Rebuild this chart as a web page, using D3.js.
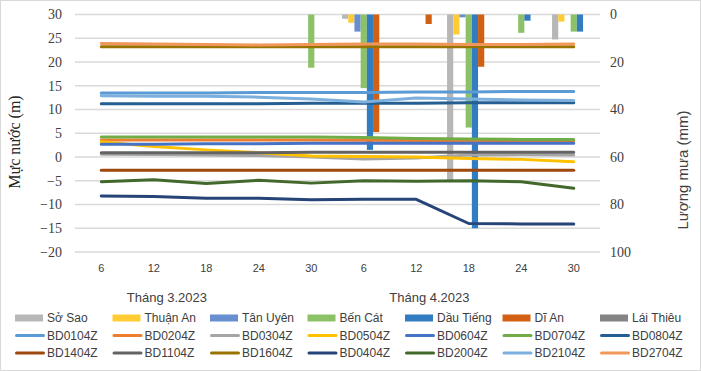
<!DOCTYPE html>
<html>
<head>
<meta charset="utf-8">
<script src="https://cdnjs.cloudflare.com/ajax/libs/d3/7.8.5/d3.min.js"></script>
<style>
  body { margin: 0; background: #fff; }
  svg { display: block; }
</style>
</head>
<body>
<svg id="chart" width="701" height="371"></svg>
<script>
// x categories (day of month) and month groups
var dayLabels = ["6", "12", "18", "24", "30", "6", "12", "18", "24", "30"]
var monthLabels = ["Tháng 3.2023", "Tháng 4.2023"]

// rainfall stations (bars, right axis, mm)
var rainNames = ["Sở Sao", "Thuận An", "Tân Uyên", "Bến Cát", "Dầu Tiếng", "Dĩ An", "Lái Thiêu"]
var rainColors = ["#B7B7B7", "#FFCD33", "#698ED0", "#8CC168", "#327DC2", "#D26012", "#848484"]
var soSao    = [0, 0, 0, 0, 0,    1.8, 0, 70,   0,   10.5]
var thuanAn  = [0, 0, 0, 0, 0,    3.5, 0, 8.4,  0,   3.0]
var tanUyen  = [0, 0, 0, 0, 0,    7.2, 0, 1.2,  0,   0]
var benCat   = [0, 0, 0, 0, 22.4, 31,  0, 47.6, 7.7, 7.2]
var dauTieng = [0, 0, 0, 0, 0,    57,  0, 90,   2.6, 7.2]
var diAn     = [0, 0, 0, 0, 0,    49.5, 4, 22,  0,   0]
var laiThieu = [0, 0, 0, 0, 0,    0,   0, 0,    0,   0]
var rainValues = [soSao, thuanAn, tanUyen, benCat, dauTieng, diAn, laiThieu]

// water level wells (lines, left axis, m)
var wellNames = ["BD0104Z", "BD0204Z", "BD0304Z", "BD0504Z", "BD0604Z", "BD0704Z", "BD0804Z",
                 "BD1404Z", "BD1104Z", "BD1604Z", "BD0404Z", "BD2004Z", "BD2104Z", "BD2704Z"]
var wellColors = ["#5B9BD5", "#ED7D31", "#A5A5A5", "#FFC000", "#4472C4", "#70AD47", "#255E91",
                  "#9E480E", "#636363", "#997300", "#264478", "#43682B", "#7CAFDD", "#F1975A"]
var bd0104 = [13.5, 13.5, 13.5, 13.6, 13.6, 13.6, 13.7, 13.7, 13.8, 13.8]
var bd0204 = [3.6, 3.6, 3.6, 3.6, 3.6, 3.5, 3.5, 3.5, 3.4, 3.4]
var bd0304 = [0.6, 0.5, 0.4, 0.3, 0.0, -0.4, -0.2, 0.4, 0.5, 0.4]
var bd0504 = [3.2, 2.2, 1.5, 0.9, 0.2, 0.1, 0.0, -0.3, -0.5, -1.0]
var bd0604 = [2.7, 2.7, 2.8, 2.8, 2.9, 2.9, 2.9, 2.9, 2.9, 2.9]
var bd0704 = [4.2, 4.2, 4.2, 4.2, 4.2, 4.1, 3.9, 3.8, 3.7, 3.7]
var bd0804 = [11.2, 11.2, 11.2, 11.2, 11.3, 11.3, 11.3, 11.4, 11.4, 11.4]
var bd1404 = [-2.8, -2.8, -2.8, -2.8, -2.8, -2.8, -2.8, -2.8, -2.8, -2.8]
var bd1104 = [0.9, 0.9, 0.9, 0.9, 1.0, 1.0, 1.0, 1.0, 1.0, 1.0]
var bd1604 = [23.2, 23.2, 23.2, 23.2, 23.2, 23.2, 23.2, 23.2, 23.2, 23.2]
var bd0404 = [-8.2, -8.3, -8.7, -8.7, -9.0, -8.9, -8.9, -14.0, -14.1, -14.1]
var bd2004 = [-5.2, -4.8, -5.6, -4.9, -5.5, -5.0, -5.1, -5.0, -5.2, -6.6]
var bd2104 = [12.9, 12.8, 12.8, 12.6, 12.2, 11.6, 12.4, 12.2, 12.0, 11.9]
var bd2704 = [23.9, 23.8, 23.7, 23.6, 23.7, 23.8, 23.8, 23.7, 23.7, 23.8]
var wellValues = [bd0104, bd0204, bd0304, bd0504, bd0604, bd0704, bd0804,
                  bd1404, bd1104, bd1604, bd0404, bd2004, bd2104, bd2704]

var leftTicks = [-20, -15, -10, -5, 0, 5, 10, 15, 20, 25, 30]
var rightTicks = [0, 20, 40, 60, 80, 100]

var svg = d3.select("#chart")
var plot = {left: 75, right: 600, top: 14.5, bottom: 252}
var sans = "'Liberation Sans', Arial, sans-serif"
var serif = "'Liberation Serif', 'Times New Roman', serif"

// chart area border
svg.append("rect")
    .attr("x", 0.5).attr("y", 0.5)
    .attr("width", 700).attr("height", 370)
    .attr("fill", "#fff")
    .attr("stroke", "#D9D9D9")

var xScale = d3.scaleBand()
    .domain(d3.range(dayLabels.length))
    .range([plot.left, plot.right])

var yLeft = d3.scaleLinear()
    .domain([-20, 30])
    .range([plot.bottom, plot.top])

var yRight = d3.scaleLinear()
    .domain([0, 100])
    .range([plot.top, plot.bottom])

// gridlines
svg.append("g")
  .selectAll("line")
  .data(leftTicks)
  .enter()
  .append("line")
    .attr("x1", plot.left)
    .attr("x2", plot.right)
    .attr("y1", function(d) { return yLeft(d) })
    .attr("y2", function(d) { return yLeft(d) })
    .attr("stroke", "#D9D9D9")
    .attr("stroke-width", 1.5)

// clustered bars hanging from the top (reversed right axis)
var clusterW = 43.4
var xInner = d3.scaleBand()
    .domain(rainNames)
    .range([0, clusterW])

var rainData = rainNames.map(function(name, i) {
  return {name: name, color: rainColors[i], values: rainValues[i]}
})

svg.append("g")
  .selectAll("g")
  .data(rainData)
  .enter()
  .append("g")
    .attr("fill", function(d) { return d.color })
  .selectAll("rect")
  .data(function(d) {
    return d.values.map(function(v, i) { return {name: d.name, i: i, v: v} })
  })
  .enter()
  .filter(function(d) { return d.v > 0 })
  .append("rect")
    .attr("x", function(d) {
      return xScale(d.i) + xScale.bandwidth() / 2 - clusterW / 2 + xInner(d.name)
    })
    .attr("y", yRight(0))
    .attr("width", xInner.bandwidth())
    .attr("height", function(d) { return yRight(d.v) - yRight(0) })

// water level lines
var line = d3.line()
    .x(function(d, i) { return xScale(i) + xScale.bandwidth() / 2 })
    .y(function(d) { return yLeft(d) })

svg.append("g")
  .selectAll("path")
  .data(wellValues)
  .enter()
  .append("path")
    .attr("d", function(d) { return line(d) })
    .attr("stroke", function(d, i) { return wellColors[i] })
    .attr("stroke-width", 3)
    .attr("stroke-linejoin", "round")
    .attr("stroke-linecap", "round")
    .attr("fill", "none")

// axes
var leftAxis = d3.axisLeft(yLeft).tickValues(leftTicks).tickSize(0).tickPadding(13)
svg.append("g")
    .attr("transform", "translate(" + plot.left + ",0)")
    .call(leftAxis)
    .call(function(g) { g.select(".domain").remove() })
    .selectAll("text")
    .style("font-family", serif)
    .style("font-size", "14px")
    .attr("fill", "#404040")

var rightAxis = d3.axisRight(yRight).tickValues(rightTicks).tickSize(0).tickPadding(10)
svg.append("g")
    .attr("transform", "translate(" + plot.right + ",0)")
    .call(rightAxis)
    .call(function(g) { g.select(".domain").remove() })
    .selectAll("text")
    .style("font-family", serif)
    .style("font-size", "14px")
    .attr("fill", "#404040")

var bottomAxis = d3.axisBottom(xScale)
    .tickSize(0)
    .tickPadding(12)
    .tickFormat(function(i) { return dayLabels[i] })
svg.append("g")
    .attr("transform", "translate(0," + plot.bottom + ")")
    .call(bottomAxis)
    .call(function(g) { g.select(".domain").remove() })
    .selectAll("text")
    .style("font-family", sans)
    .style("font-size", "11px")
    .attr("fill", "#404040")

// month group labels
svg.append("g")
  .selectAll("text")
  .data(monthLabels)
  .enter()
  .append("text")
    .attr("x", function(d, i) { return xScale(i * 5) + xScale.bandwidth() * 1.75 })
    .attr("y", 302)
    .attr("text-anchor", "middle")
    .style("font-family", sans)
    .style("font-size", "13px")
    .attr("fill", "#404040")
    .text(function(d) { return d })

// axis titles
svg.append("text")
    .attr("transform", "translate(20,142) rotate(-90)")
    .attr("text-anchor", "middle")
    .style("font-family", serif)
    .style("font-size", "16px")
    .attr("fill", "#262626")
    .text("Mực nước (m)")

svg.append("text")
    .attr("transform", "translate(688,170) rotate(-90)")
    .attr("text-anchor", "middle")
    .style("font-family", sans)
    .style("font-size", "15px")
    .attr("fill", "#404040")
    .text("Lượng mưa (mm)")

// legend: 7 per row, bars first then lines
var legendItems = rainNames.map(function(n, i) { return {name: n, color: rainColors[i], type: "bar"} })
  .concat(wellNames.map(function(n, i) { return {name: n, color: wellColors[i], type: "line"} }))

var legend = svg.append("g")
  .selectAll("g")
  .data(legendItems)
  .enter()
  .append("g")
    .attr("transform", function(d, i) {
      return "translate(" + (15 + (i % 7) * 97.5) + "," + (318 + Math.floor(i / 7) * 17.5) + ")"
    })

legend.filter(function(d) { return d.type == "bar" })
  .append("rect")
    .attr("x", 0).attr("y", -3.5)
    .attr("width", 28).attr("height", 7)
    .attr("fill", function(d) { return d.color })

legend.filter(function(d) { return d.type == "line" })
  .append("line")
    .attr("x1", 1.5).attr("x2", 28.5)
    .attr("y1", 0).attr("y2", 0)
    .attr("stroke", function(d) { return d.color })
    .attr("stroke-width", 3)
    .attr("stroke-linecap", "round")

legend.append("text")
    .attr("x", 32)
    .attr("y", 0)
    .attr("dy", "0.35em")
    .style("font-family", sans)
    .style("font-size", "12px")
    .attr("fill", "#404040")
    .text(function(d) { return d.name })
</script>
</body>
</html>
